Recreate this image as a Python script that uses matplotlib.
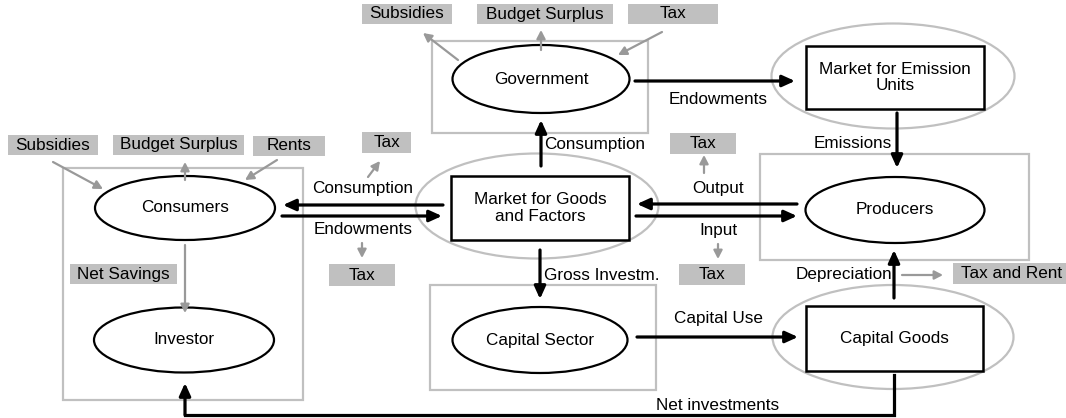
import matplotlib
matplotlib.use("Agg")
import matplotlib.pyplot as plt
from matplotlib.patches import Ellipse, Rectangle, FancyArrowPatch

plt.rcParams['font.family'] = ['Liberation Sans', 'DejaVu Sans']

# agents drawn as black ellipses
agent_names = ["Consumers", "Investor", "Government", "Capital Sector", "Producers"]
agent_xy = [(185, 208), (184, 340), (541, 79), (540, 340), (895, 210)]
agent_wh = [(180, 64), (180, 65), (177, 68), (175, 66), (179, 66)]

# markets drawn as boxes inside a grey ellipse
market_names = ["Market for Goods\nand Factors", "Market for Emission\nUnits", "Capital Goods"]
market_box = [(451, 176, 629, 240), (806, 46, 984, 109), (806, 306, 983, 371)]
market_ring = [(537, 206, 243, 105), (893, 76, 243, 105), (893, 337, 241, 104)]

# grey frames around agents
frames = [(63, 168, 303, 400), (432, 41, 648, 133), (760, 154, 1029, 260), (430, 285, 656, 390)]

# grey tags
tag_names = ["Subsidies", "Budget Surplus", "Rents", "Tax", "Tax", "Net Savings",
             "Subsidies", "Budget Surplus", "Tax", "Tax", "Tax", "Tax and Rent"]
tag_box = [(8, 135, 98, 155), (113, 135, 244, 155), (253, 136, 325, 156),
           (362, 132, 411, 153), (329, 264, 395, 286), (70, 264, 177, 284),
           (362, 4, 452, 24), (477, 4, 613, 24), (628, 4, 718, 24),
           (670, 133, 736, 154), (679, 264, 745, 285), (953, 263, 1070, 284)]

# flow labels
flow_names = ["Consumption", "Endowments", "Consumption", "Endowments", "Emissions",
              "Output", "Input", "Gross Investm.", "Depreciation", "Capital Use",
              "Net investments"]
flow_xy = [(363, 188), (363, 230), (544, 145), (718, 100), (892, 143),
           (718, 188), (718, 231), (544, 275), (892, 275), (718, 318), (718, 405)]
flow_ha = ["center", "center", "left", "center", "right",
           "center", "center", "left", "right", "center", "center"]

# black flows
flows = [((443, 205), (283, 205)), ((282, 216), (442, 216)),
         ((797, 204), (637, 204)), ((636, 216), (797, 216)),
         ((541, 166), (541, 120)), ((635, 81), (795, 81)),
         ((897, 113), (897, 168)), ((540, 250), (540, 299)),
         ((637, 337), (798, 337)), ((894, 298), (894, 250))]
net_inv_path = [(894, 375), (894, 415), (185, 415), (185, 383)]

# grey tax / transfer arrows
side_flows = [((53, 162), (103, 189)), ((185, 180), (185, 162)), ((277, 160), (245, 180)),
              ((368, 177), (380, 161)), ((362, 243), (362, 258)), ((185, 245), (185, 313)),
              ((458, 60), (423, 33)), ((541, 50), (541, 30)), ((662, 32), (618, 55)),
              ((704, 173), (704, 155)), ((718, 244), (718, 259)), ((902, 275), (943, 275))]

FS = 12.3
LIGHT = '#c0c0c0'
MID = '#999999'

fig = plt.figure(figsize=(10.66, 4.18), dpi=100)
ax = fig.add_axes([0, 0, 1, 1])
ax.set_xlim(0, 1066)
ax.set_ylim(418, 0)
ax.axis('off')


def arrow(p0, p1, color='black', lw=2.3, hl=7.5, hw=3.4):
    ax.add_patch(FancyArrowPatch(p0, p1, arrowstyle=f'-|>,head_length={hl},head_width={hw}',
                                 mutation_scale=1, lw=lw, color=color,
                                 shrinkA=0, shrinkB=0, zorder=4))


for x0, y0, x1, y1 in frames:
    ax.add_patch(Rectangle((x0, y0), x1 - x0, y1 - y0, fill=False, ec=LIGHT, lw=1.6, zorder=1))

for (cx, cy, w, h) in market_ring:
    ax.add_patch(Ellipse((cx, cy), w, h, fill=False, ec=LIGHT, lw=1.6, zorder=1))

for name, (x0, y0, x1, y1) in zip(market_names, market_box):
    ax.add_patch(Rectangle((x0, y0), x1 - x0, y1 - y0, fc='white', ec='black', lw=1.8, zorder=2))
    ax.text((x0 + x1) / 2, (y0 + y1) / 2, name, ha='center', va='center', fontsize=FS,
            linespacing=1.15, zorder=3)

for name, (cx, cy), (w, h) in zip(agent_names, agent_xy, agent_wh):
    ax.add_patch(Ellipse((cx, cy), w, h, fc='white', ec='black', lw=1.6, zorder=2))
    ax.text(cx, cy, name, ha='center', va='center', fontsize=FS, zorder=3)

for name, (x0, y0, x1, y1) in zip(tag_names, tag_box):
    ax.add_patch(Rectangle((x0, y0), x1 - x0, y1 - y0, fc=LIGHT, ec='none', zorder=2))
    ax.text((x0 + x1) / 2, (y0 + y1) / 2, name, ha='center', va='center', fontsize=FS, zorder=3)

for name, (x, y), ha in zip(flow_names, flow_xy, flow_ha):
    ax.text(x, y, name, ha=ha, va='center', fontsize=FS, zorder=3)

for p0, p1 in flows:
    arrow(p0, p1)

xs, ys = zip(*net_inv_path[:-1])
ax.plot(xs, ys, color='black', lw=2.3, solid_joinstyle='miter', zorder=4)
arrow(net_inv_path[-2], net_inv_path[-1])

for p0, p1 in side_flows:
    arrow(p0, p1, color=MID, lw=1.6, hl=5, hw=2.6)

fig.savefig('out.png', dpi=100)
